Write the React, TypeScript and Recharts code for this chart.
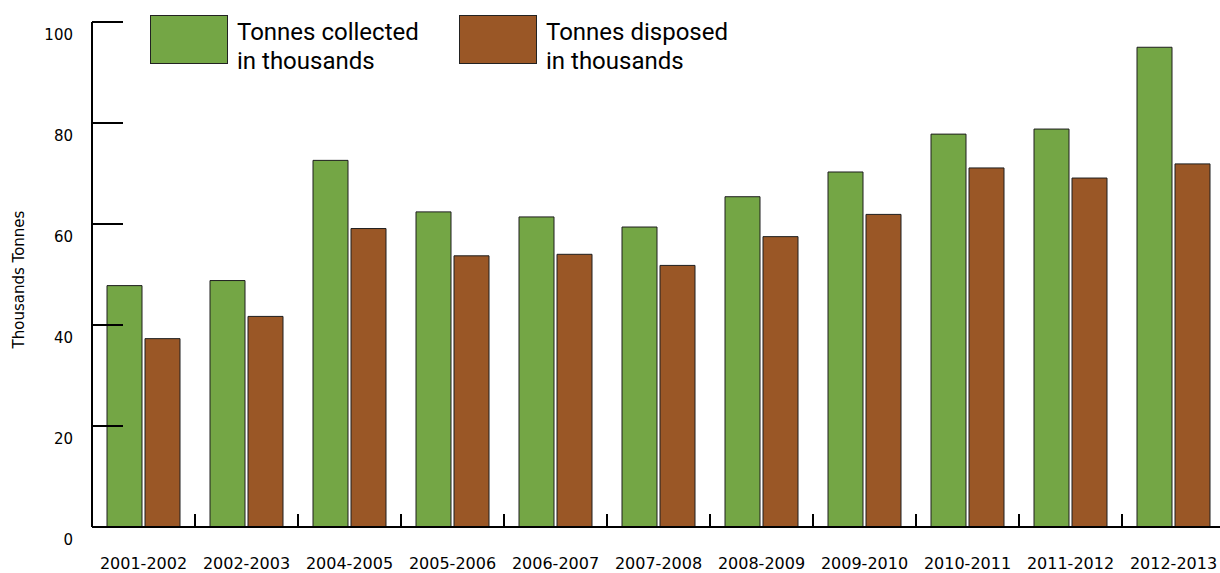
import React from 'react';
import { BarChart, Bar, XAxis, YAxis, Legend } from 'recharts';

const categories = [
  '2001-2002', '2002-2003', '2004-2005', '2005-2006', '2006-2007', '2007-2008',
  '2008-2009', '2009-2010', '2010-2011', '2011-2012', '2012-2013',
];
const collected = [47.8, 48.8, 72.6, 62.4, 61.4, 59.4, 65.4, 70.3, 77.8, 78.8, 95.0];
const disposed = [37.3, 41.7, 59.1, 53.7, 54.0, 51.8, 57.5, 61.9, 71.1, 69.1, 71.9];
const yTicks = [0, 20, 40, 60, 80, 100];
const seriesNames = ['Tonnes collected in thousands', 'Tonnes disposed in thousands'];
const legendLines = [
  ['Tonnes collected', 'in thousands'],
  ['Tonnes disposed', 'in thousands'],
];
const seriesColors = ['#74A645', '#9A5726'];
const yAxisTitle = 'Thousands Tonnes';

const data = categories.map((c, i) => ({ category: c, collected: collected[i], disposed: disposed[i] }));

const CHART_W = 1240;
const CHART_H = 573;
const MARGIN = { top: 22, right: 15, left: 0, bottom: 0 };
const Y_W = 92;
const X_H = 46;
const BAND = (CHART_W - MARGIN.left - MARGIN.right - Y_W) / categories.length;
const AXIS_FONT = '"DejaVu Sans", Verdana, sans-serif';

const XTick = (props: any) => {
  const { x, y, payload } = props;
  const bx = x - BAND / 2;
  return (
    <g>
      <line x1={bx} x2={bx} y1={y} y2={y - 13} stroke="#000" strokeWidth={2} />
      <text x={x} y={y + 42} textAnchor="middle" fontSize={16} fontFamily={AXIS_FONT} fill="#000">
        {payload.value}
      </text>
    </g>
  );
};

const YTick = (props: any) => {
  const { y, payload } = props;
  return (
    <g>
      <line x1={Y_W} x2={Y_W + 31} y1={y} y2={y} stroke="#000" strokeWidth={2} />
      <text x={73} y={y + 18} textAnchor="end" fontSize={15} fontFamily={AXIS_FONT} fill="#000">
        {payload.value}
      </text>
    </g>
  );
};

const YTitle = (props: any) => {
  const vb = props.viewBox || { x: 0, y: 22, width: 92, height: 505 };
  const cx = 24;
  const cy = vb.y + vb.height / 2 + 5;
  return (
    <text
      x={cx}
      y={cy}
      transform={`rotate(-90 ${cx} ${cy})`}
      textAnchor="middle"
      fontSize={15}
      fontFamily={AXIS_FONT}
      fill="#000"
    >
      {yAxisTitle}
    </text>
  );
};

const LegendContent = (props: any) => {
  const payload = props.payload || [];
  return (
    <div style={{ display: 'flex', fontFamily: 'Roboto, sans-serif', fontSize: 24, color: '#000' }}>
      {payload.map((entry: any, i: number) => (
        <div key={i} style={{ display: 'flex', width: 309, alignItems: 'flex-start' }}>
          <div
            style={{
              width: 76,
              height: 47,
              background: entry.color,
              border: '1px solid #222',
              flex: 'none',
            }}
          />
          <div style={{ marginLeft: 9, lineHeight: '28.5px', marginTop: 3, whiteSpace: 'nowrap' }}>
            <div>{legendLines[i][0]}</div>
            <div>{legendLines[i][1]}</div>
          </div>
        </div>
      ))}
    </div>
  );
};

export default function App() {
  return (
    <div style={{ position: 'absolute', left: 0, top: 0, width: 1220, height: 573, overflow: 'hidden', background: '#fff' }}>
      <BarChart
        width={CHART_W}
        height={CHART_H}
        data={data}
        margin={MARGIN}
        barCategoryGap={15}
        barGap={3}
      >
        <XAxis
          dataKey="category"
          interval={0}
          height={X_H}
          tickSize={0}
          tickMargin={0}
          tickLine={false}
          axisLine={{ stroke: '#000', strokeWidth: 2 }}
          tick={<XTick />}
        />
        <YAxis
          width={Y_W}
          domain={[0, 100]}
          ticks={yTicks}
          tickSize={0}
          tickMargin={0}
          tickLine={false}
          axisLine={{ stroke: '#000', strokeWidth: 2 }}
          tick={<YTick />}
          label={{ content: <YTitle /> }}
        />
        <Legend
          layout="horizontal"
          verticalAlign="middle"
          align="center"
          content={<LegendContent />}
          wrapperStyle={{ top: 15, left: 150, width: 640, height: 60 }}
        />
        <Bar dataKey="collected" name={seriesNames[0]} fill={seriesColors[0]} stroke="#1e1e1e" strokeWidth={1} isAnimationActive={false} />
        <Bar dataKey="disposed" name={seriesNames[1]} fill={seriesColors[1]} stroke="#1e1e1e" strokeWidth={1} isAnimationActive={false} />
      </BarChart>
    </div>
  );
}
